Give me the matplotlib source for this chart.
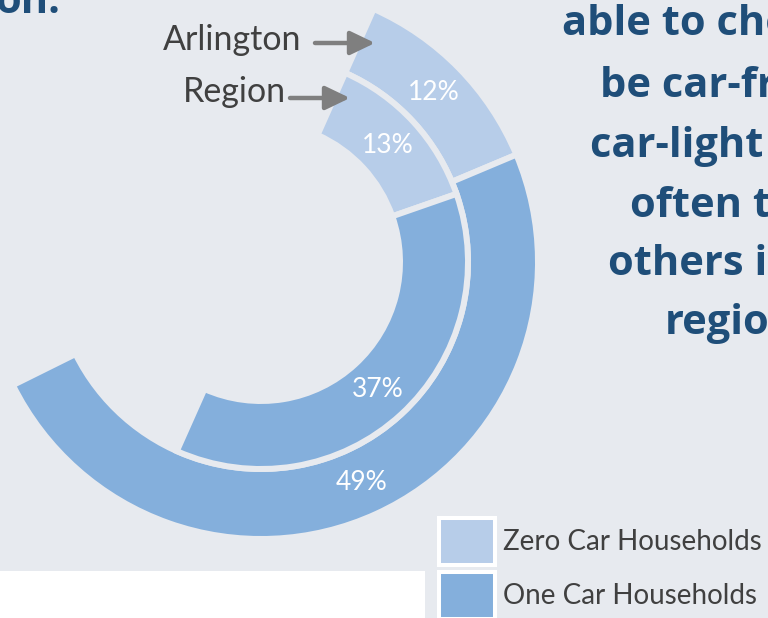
import matplotlib
matplotlib.use("Agg")
import matplotlib.pyplot as plt
from matplotlib.patches import Patch, Rectangle
import numpy as np

# ---- data ----
categories = ["Zero Car Households", "One Car Households"]
arlington = [12, 49]   # outer ring (%)
region = [13, 37]      # inner ring (%)
ring_labels = ["Arlington", "Region"]
title_tail = "on."
side_text = ["able to choose to", "be car-free or", "car-light more", "often than", "others in the", "region."]

# ---- style ----
BG = "#E7EAEF"
LIGHT = "#B7CDE9"
DARK = "#84AFDC"
NAVY = "#1F4E79"
GREY_TXT = "#404040"
ARROW = "#7F7F7F"
colors = [LIGHT, DARK]

W, H = 768, 618
fig = plt.figure(figsize=(W / 100, H / 100), dpi=100, facecolor=BG)
ax = fig.add_axes([0, 0, 1, 1])
ax.set_facecolor(BG)

cx, cy = 261, H - 262
gap_lw = 4.3  # pt, background-coloured separators

def ring(values, radius, width, pctdist):
    wedges, _ = ax.pie(np.array(values) / 100.0, normalize=False, colors=colors,
                       startangle=66, counterclock=False, center=(cx, cy),
                       radius=radius,
                       wedgeprops=dict(width=width, edgecolor=BG, linewidth=gap_lw))
    for w, v in zip(wedges, values):
        ang = np.deg2rad((w.theta1 + w.theta2) / 2)
        r = radius * pctdist
        ax.text(cx + r * np.cos(ang), cy + r * np.sin(ang), f"{v}%",
                ha="center", va="center", color="white", fontsize=19,
                family="Lato")
    return wedges

ring(arlington, 277, 70, 0.875)
ring(region, 207, 68, 0.835)

ax.set_xlim(0, W)
ax.set_ylim(0, H)
ax.set_aspect("equal")
ax.axis("off")

# white panel bottom-left
ax.add_patch(Rectangle((0, 0), 425, 47, facecolor="white", edgecolor="none", zorder=0))

# ring labels with arrows
lab_specs = [(163, H - 50, 315, 375, H - 43), (183, H - 102, 290, 350, H - 98)]
for name, (tx, ty, x0, x1, ay) in zip(ring_labels, lab_specs):
    ax.text(tx, ty, name, ha="left", va="baseline", fontsize=24.5,
            family="Lato", color=GREY_TXT)
    ax.annotate("", xy=(x1, ay), xytext=(x0, ay),
                arrowprops=dict(arrowstyle="-|>,head_length=0.75,head_width=0.36",
                                color=ARROW, lw=3.2, shrinkA=0, shrinkB=0,
                                mutation_scale=20))

# title fragments
ax.text(60, H - 13, title_tail, ha="right", va="baseline", fontsize=30,
        family="Open Sans", weight="bold", color=NAVY)
side_x = [562, 600, 590, 630, 608, 665]
side_base = [35, 97, 157, 217, 275, 334]
for s, x, b in zip(side_text, side_x, side_base):
    ax.text(x, H - b, s, ha="left", va="baseline", fontsize=30,
            family="Open Sans", weight="bold", color=NAVY)

# legend
handles = [Patch(facecolor=c, edgecolor="white", linewidth=2.9) for c in colors]
fs = 20
ax.legend(handles, categories, loc="upper left",
          bbox_to_anchor=(439 / W, 1 - 518 / H), frameon=False,
          prop=dict(family="Lato", size=fs), labelcolor=GREY_TXT,
          handlelength=2.0, handleheight=2.22, labelspacing=0.255,
          handletextpad=0.3, borderpad=0, borderaxespad=0)

fig.savefig("out.png", dpi=100, facecolor=BG)
